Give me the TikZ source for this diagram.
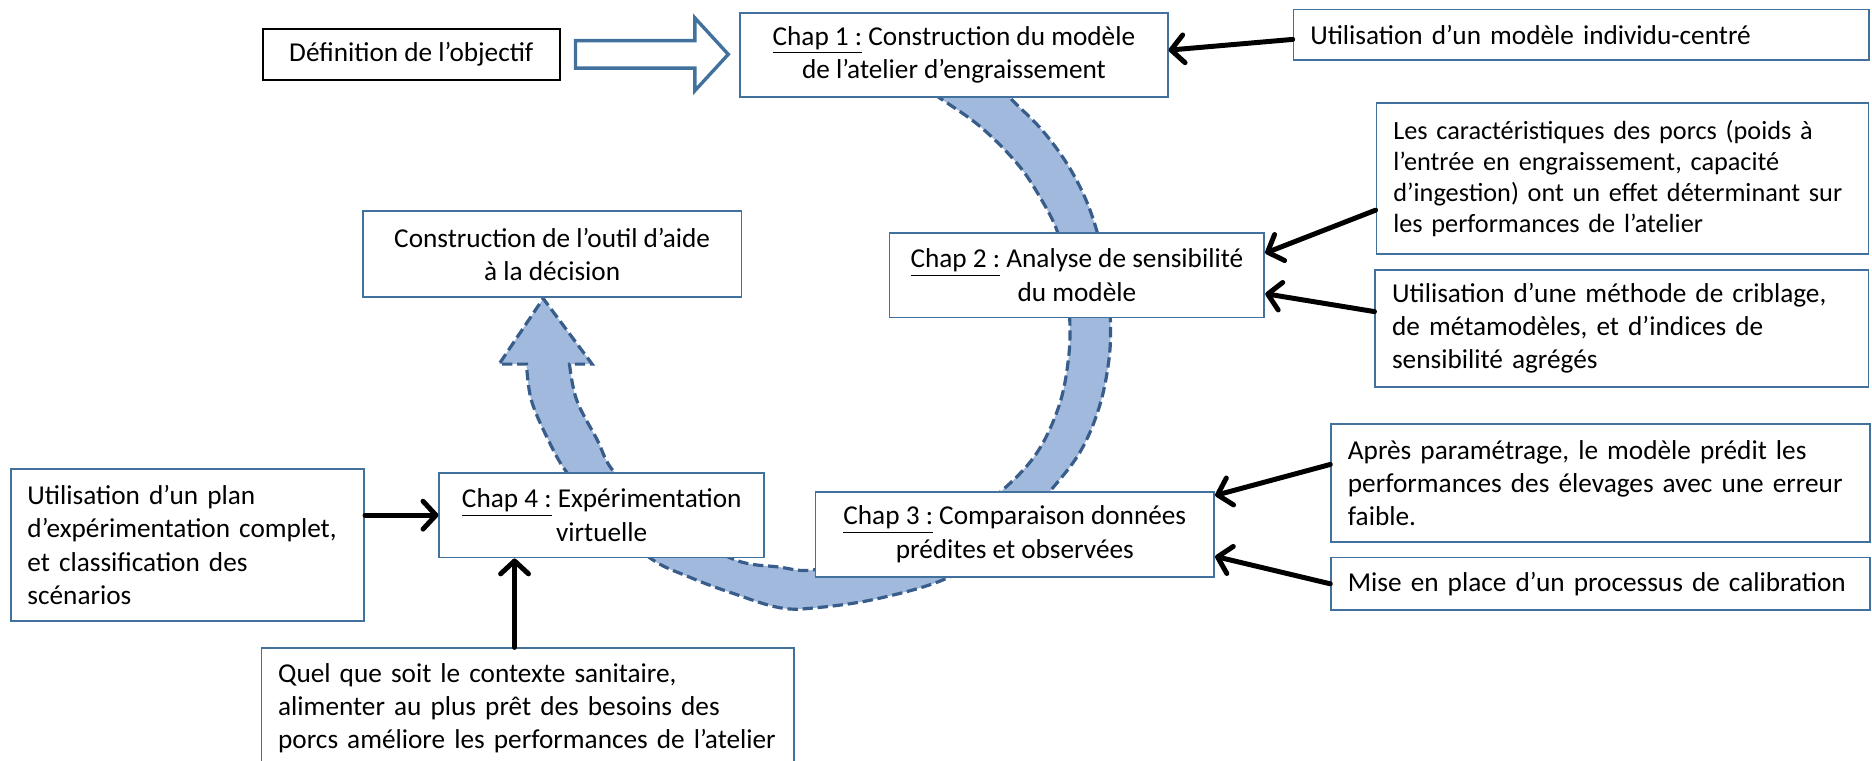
\documentclass[tikz,border=0pt]{standalone}
\usepackage{fontspec}
\setmainfont{Carlito}
\usetikzlibrary{arrows.meta}
\definecolor{bordbleu}{RGB}{65,113,156}
\definecolor{fondbande}{RGB}{161,185,220}
\definecolor{tirets}{RGB}{56,93,138}

\begin{document}
\begin{tikzpicture}[x=0.6pt, y=-0.6pt]
    \tikzset{
      boite/.style={draw=bordbleu, line width=0.9pt, fill=white, inner sep=0pt, align=center, font=\fontsize{13.7}{16.7}\selectfont},
      boitegauche/.style={boite, align=left, inner xsep=8.4pt},
      fleche/.style={line width=2.5pt, line cap=round, -{Straight Barb[round, length=6.5pt, width=14pt]}},
      bande/.style={fill=fondbande, draw=tirets, line width=1.6pt, dash pattern=on 5.2pt off 2.4pt},
      creux/.style={draw=bordbleu, line width=1.7pt, fill=white, line join=miter}
    }
    \useasboundingbox (0,0) rectangle (1568,637);
    \clip (0,0) rectangle (1568,637);

    % grande fleche circulaire (chap 1 -> chap 4 -> outil)
    \draw[bande] plot[smooth, tension=0.6] coordinates {(830,64) (846,82) (872,108) (893,136) (909,166) (920,198) (927,232) (930,266) (929,300) (921,340) (905,378) (879,412) (845,450) (796,483) (737,501) (684,509) (653,509) (614,497) (579,484) (544,467) (505,430) (475,396) (459,368) (445,335) (441,305)}
      -- (418,305) -- (455,250) -- (496,305) -- (477,305)
      -- plot[smooth, tension=0.6] coordinates {(477,305) (483,335) (500,368) (515,396) (555,430) (611,467) (653,475) (684,477) (750,462) (800,440) (838,412) (868,380) (887,340) (895,300) (896,266) (893,230) (886,195) (871,165) (852,137) (821,106) (787,82) (766,68)}
      -- cycle;

    % objectif et chapitres
    \node[boite, draw=black, minimum width=149.4pt, minimum height=25.8pt] (def) at (344.5,45.5) {Définition de l’objectif};
    \node[boite, minimum width=214.8pt, minimum height=42pt] (chap1) at (799,46) {\underline{Chap 1 :} Construction du modèle\\de l’atelier d’engraissement};
    \node[boite, minimum width=188.4pt, minimum height=42.6pt] (chap2) at (902,230.5) {\underline{Chap 2 :} Analyse de sensibilité\\du modèle};
    \node[boite, minimum width=200.4pt, minimum height=42.6pt] (chap3) at (850,447.5) {\underline{Chap 3 :} Comparaison données\\prédites et observées};
    \node[boite, minimum width=163.2pt, minimum height=42.6pt] (chap4) at (504,431.5) {\underline{Chap 4 :} Expérimentation\\virtuelle};
    \node[boite, minimum width=190.2pt, minimum height=43.2pt] (outil) at (462.5,213) {Construction de l’outil d’aide\\à la décision};

    % resultats et methodes
    \node[boitegauche, text width=272.4pt, minimum height=25.2pt] (u1) at (1324.5,29) {Utilisation d’un modèle individu-centré};
    \node[boitegauche, text width=230.4pt, minimum height=76.2pt, font=\fontsize{13.2}{15.6}\selectfont] (carac) at (1359,149.5) {Les caractéristiques des porcs (poids à\\l’entrée en engraissement, capacité\\d’ingestion) ont un effet déterminant sur\\les performances de l’atelier};
    \node[boitegauche, text width=231pt, minimum height=58.8pt] (crib) at (1358.5,275) {Utilisation d’une méthode de criblage,\\de métamodèles, et d’indices de\\sensibilité agrégés};
    \node[boitegauche, text width=253.8pt, minimum height=59.4pt] (apres) at (1340.5,404.5) {Après paramétrage, le modèle prédit les\\performances des élevages avec une erreur\\faible.};
    \node[boitegauche, text width=253.8pt, minimum height=26.4pt] (mise) at (1340.5,489) {Mise en place d’un processus de calibration};
    \node[boitegauche, text width=160.8pt, minimum height=76.2pt] (plan) at (157,456.5) {Utilisation d’un plan\\d’expérimentation complet,\\et classification des\\scénarios};
    \node[boitegauche, text width=250.8pt, minimum height=60pt] (quel) at (442,593) {Quel que soit le contexte sanitaire,\\alimenter au plus prêt des besoins des\\porcs améliore les performances de l’atelier};

    % fleche creuse
    \draw[creux] (482,34) -- (582,34) -- (582,15) -- (610,45.5) -- (582,76) -- (582,57) -- (482,57) -- cycle;

    % fleches noires
    \draw[fleche] ([yshift=-2.4pt]u1.west) -- ([yshift=2.4pt]chap1.east);
    \draw[fleche] ([yshift=-15.9pt]carac.west) -- ([yshift=11.1pt]chap2.east);
    \draw[fleche] ([yshift=8.4pt]crib.west) -- ([yshift=-9.3pt]chap2.east);
    \draw[fleche] ([yshift=9.3pt]apres.west) -- ([yshift=19.5pt]chap3.east);
    \draw[fleche] (mise.west) -- ([yshift=-11.1pt]chap3.east);
    \draw[fleche] (chap4.west -| plan.east) -- (chap4.west);
    \draw[fleche] ([xshift=-6.6pt]quel.north) -- ([xshift=-6.6pt]quel.north |- chap4.south);
\end{tikzpicture}
\end{document}
